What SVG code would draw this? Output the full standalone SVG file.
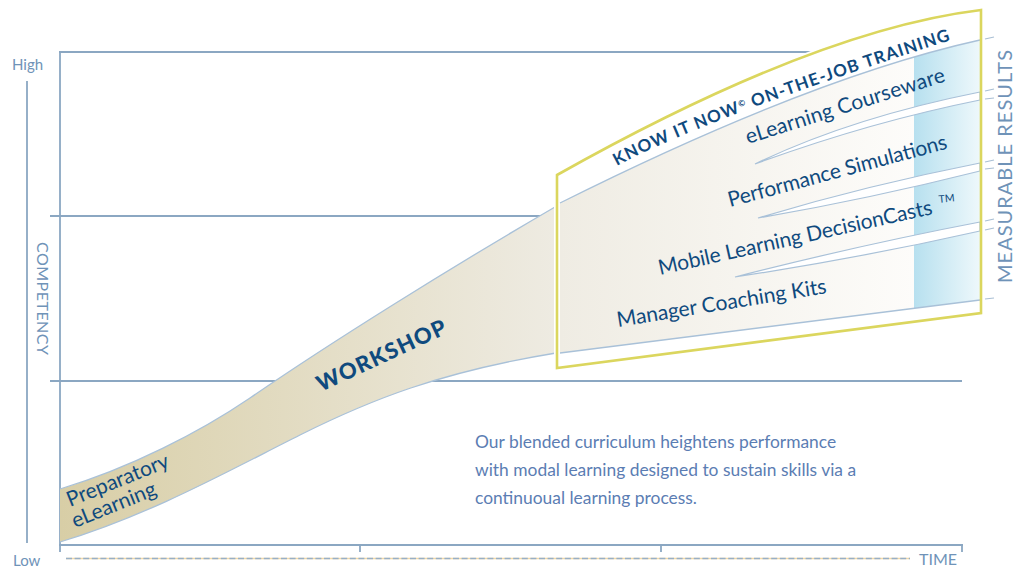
<svg xmlns="http://www.w3.org/2000/svg" width="1024" height="568" viewBox="0 0 1024 568">
<defs>
  <linearGradient id="gOuter" gradientUnits="userSpaceOnUse" x1="60" y1="0" x2="556" y2="0">
    <stop offset="0" stop-color="#d8cea6"/>
    <stop offset="1" stop-color="#eeebe2"/>
  </linearGradient>
  <linearGradient id="gInner" gradientUnits="userSpaceOnUse" x1="560" y1="0" x2="914" y2="0">
    <stop offset="0" stop-color="#efece3"/>
    <stop offset="1" stop-color="#fdfcfa"/>
  </linearGradient>
  <linearGradient id="gBlue" gradientUnits="userSpaceOnUse" x1="914" y1="0" x2="980" y2="0">
    <stop offset="0" stop-color="#b7e0ef"/>
    <stop offset="1" stop-color="#eef8fb"/>
  </linearGradient>
  <clipPath id="cInner"><path d="M560,203 Q812,77 980,40 L980,300 L560,353 Z"/></clipPath>
  <path id="kinPath" d="M617,166 Q705,118 970,34"/>
</defs>
<style>
  .ax{stroke:#8ba7c2;stroke-width:1.8;fill:none}
  .edge{stroke:#a9c1d8;stroke-width:1.3;fill:none}
  .wedge{fill:#ffffff;stroke:#a9c1d8;stroke-width:1.2}
  .lbl{font-family:Lato,"Open Sans","Liberation Sans",sans-serif;fill:#0f4a7e}
  .axt{font-family:Lato,"Open Sans","Liberation Sans",sans-serif;fill:#6f93b8}
  .body{font-family:Lato,"Open Sans","Liberation Sans",sans-serif;fill:#5b7db3;font-size:17.4px}
  .tick{stroke:#a9bfd4;stroke-width:1.2}
</style>
<rect width="1024" height="568" fill="#ffffff"/>

<g id="axes">
  <line class="ax" x1="27" y1="81" x2="27" y2="543" stroke-width="1.5"/>
  <line class="ax" x1="60" y1="52" x2="60" y2="545"/>
  <line class="ax" x1="59" y1="52" x2="820" y2="52"/>
  <line class="ax" x1="50" y1="216" x2="557" y2="216" stroke-width="1.3"/>
  <line class="ax" x1="50" y1="381" x2="962" y2="381" stroke-width="1.3"/>
  <line class="ax" x1="59" y1="545" x2="963" y2="545"/>
  <line class="ax" x1="60" y1="545" x2="60" y2="552" stroke-width="1.3"/>
  <line class="ax" x1="360" y1="545" x2="360" y2="552" stroke-width="1.3"/>
  <line class="ax" x1="661" y1="545" x2="661" y2="552" stroke-width="1.3"/>
  <line class="ax" x1="962" y1="545" x2="962" y2="552" stroke-width="1.3"/>
  <line x1="66" y1="558.5" x2="910" y2="558.5" stroke="#f3d9a6" stroke-width="1.6"/>
  <line x1="66" y1="558.5" x2="910" y2="558.5" stroke="#98afc6" stroke-width="1.6" stroke-dasharray="6 2.6"/>
  <text class="axt" x="12" y="70" font-size="15">High</text>
  <text class="axt" x="13" y="566" font-size="15">Low</text>
  <text class="axt" x="919" y="565" font-size="16">TIME</text>
  <text class="axt" transform="translate(37,242) rotate(90)" font-size="16" textLength="113">COMPETENCY</text>
  <text class="axt" transform="translate(1012,283) rotate(-90)" font-size="20" textLength="233" fill="#7d9fc0">MEASURABLE RESULTS</text>
</g>

<g id="workshop-band">
  <path d="M60,489 C130,468 200,432 250,398 C330,343 450,268 555,207 L556,353 C440,372 370,400 300,435 C230,470 150,515 60,542 Z" fill="url(#gOuter)"/>
  <path class="edge" d="M60,489 C130,468 200,432 250,398 C330,343 450,268 555,207"/>
  <path class="edge" d="M556,353 C440,372 370,400 300,435 C230,470 150,515 60,542"/>
</g>

<g id="ojt-box">
  <path d="M557,175 Q815,30 981,10 L981,313 L557,368 Z" fill="#ffffff" stroke="#ffffff" stroke-width="6"/>
  <path d="M560,203 Q812,77 980,40 L980,300 L560,353 Z" fill="url(#gInner)"/>
  <rect x="914" y="30" width="67" height="290" fill="url(#gBlue)" clip-path="url(#cInner)"/>
  <path class="wedge" d="M755,164 Q850,118 980,92 L980,100 Q870,122 755,164 Z"/>
  <path class="wedge" d="M758,218 Q864,186 980,163 L980,171 Q864,200 758,218 Z"/>
  <path class="wedge" d="M735,277 Q860,245 980,222 L980,231 Q860,258 735,277 Z"/>
  <path class="edge" d="M560,203 Q812,77 980,40"/>
  <path class="edge" d="M560,353 L980,300"/>
  <path d="M557,175 Q815,30 981,10 L981,313 L557,368 Z" fill="none" stroke="#dbd65e" stroke-width="2.6" stroke-linejoin="miter"/>
</g>

<g id="right-ticks">
  <line class="tick" x1="985" y1="39" x2="994" y2="37"/>
  <line class="tick" x1="985" y1="91" x2="994" y2="89"/>
  <line class="tick" x1="985" y1="99" x2="994" y2="98"/>
  <line class="tick" x1="985" y1="162" x2="994" y2="160"/>
  <line class="tick" x1="985" y1="169" x2="994" y2="168"/>
  <line class="tick" x1="985" y1="221" x2="994" y2="219"/>
  <line class="tick" x1="985" y1="230" x2="994" y2="228"/>
  <line class="tick" x1="985" y1="299" x2="994" y2="298"/>
</g>

<g id="labels" font-size="21">
  <text class="lbl" transform="translate(70,507) rotate(-22)">Preparatory</text>
  <text class="lbl" transform="translate(75,528) rotate(-22)">eLearning</text>
  <text class="lbl" transform="translate(321,392) rotate(-25)" font-size="22" font-weight="900" textLength="140">WORKSHOP</text>
  <text class="lbl" font-size="17" font-weight="700" fill="#34628f" letter-spacing="1.1"><textPath href="#kinPath">KNOW IT NOW<tspan font-size="8.5" dy="-5">©</tspan><tspan dy="5"> ON-THE-JOB TRAINING</tspan></textPath></text>
  <text class="lbl" transform="translate(748,144) rotate(-17.6)" textLength="208">eLearning Courseware</text>
  <text class="lbl" transform="translate(730,207) rotate(-15)" textLength="226">Performance Simulations</text>
  <text class="lbl" transform="translate(660,275) rotate(-12.6)" textLength="280">Mobile Learning DecisionCasts</text>
  <text class="lbl" transform="translate(939,203) rotate(-6)" font-size="10.5">TM</text>
  <text class="lbl" transform="translate(618,327) rotate(-9.2)" textLength="212">Manager Coaching Kits</text>
</g>

<g id="caption">
  <text class="body" x="475" y="448">Our blended curriculum heightens performance</text>
  <text class="body" x="475" y="476">with modal learning designed to sustain skills via a</text>
  <text class="body" x="475" y="504">continuoual learning process.</text>
</g>
</svg>
